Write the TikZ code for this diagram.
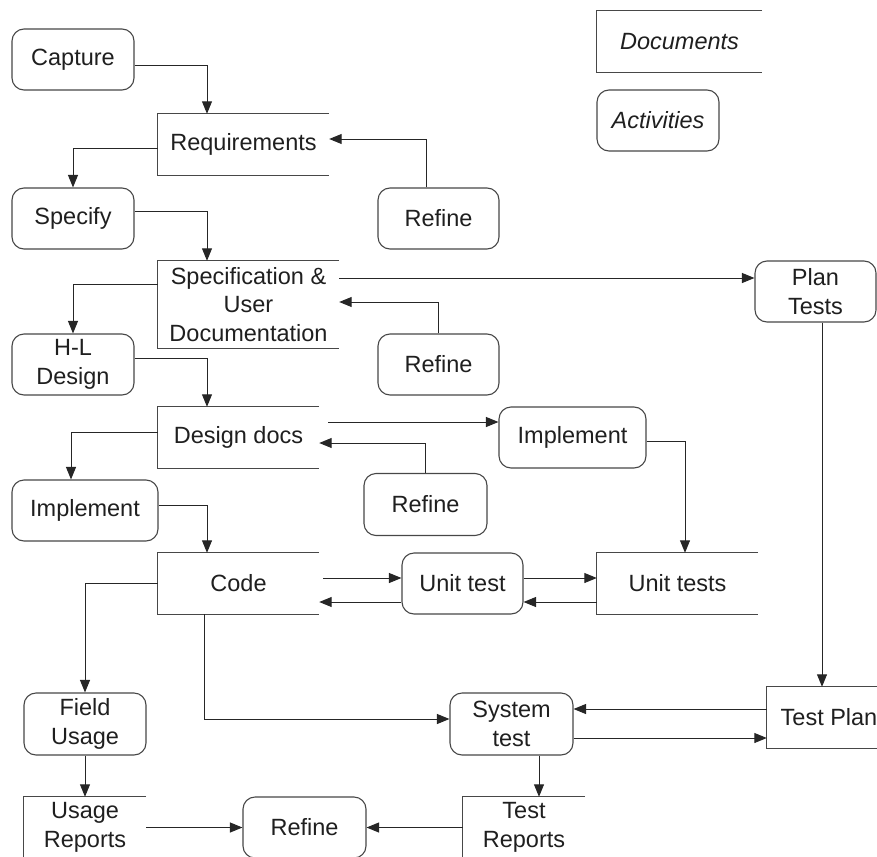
\documentclass[tikz,border=0pt]{standalone}
\usepackage{fontspec}
\setmainfont{Liberation Sans}
\usetikzlibrary{arrows.meta}
\begin{document}
\begin{tikzpicture}[x=1pt,y=-1pt,
  every node/.style={font=\fontsize{23.5}{28.5}\selectfont, text=black!88, inner sep=0pt, align=center},
  act/.style={draw=black!72, line width=1.1pt, rounded corners=12pt},
  doc/.style={},
  docline/.style={draw=black!72, line width=1.1pt},
  arr/.style={draw=black!85, line width=1pt, -{Triangle[length=12.5pt,width=10pt]}},
]
\useasboundingbox (0,0) rectangle (877,856);

% legend
\node[doc, minimum width=165pt, minimum height=61pt] (legdoc) at (679.5,41.5) {\itshape Documents};
\node[act, minimum width=122pt, minimum height=61pt] (legact) at (658,120.5) {\itshape Activities};

% activities
\node[act, minimum width=122pt, minimum height=61pt] (cap) at (73,59.5) {Capture};
\node[act, minimum width=121pt, minimum height=61pt] (ref1) at (438.5,218.5) {Refine};
\node[act, minimum width=122pt, minimum height=61pt] (sp) at (73,218.5) {Specify};
\node[act, minimum width=121pt, minimum height=61pt] (ref2) at (438.5,364.5) {Refine};
\node[act, minimum width=121pt, minimum height=61pt] (pt) at (815.5,291.5) {Plan\\Tests};
\node[act, minimum width=122pt, minimum height=61pt] (hl) at (73,364.5) {H-L\\Design};
\node[act, minimum width=147pt, minimum height=61pt] (impl2) at (572.5,437.5) {Implement};
\node[act, minimum width=123pt, minimum height=62pt] (ref3) at (425.5,504.5) {Refine};
\node[act, minimum width=146pt, minimum height=61pt] (impl1) at (85,510.5) {Implement};
\node[act, minimum width=121pt, minimum height=61pt] (utst) at (462.5,583.5) {Unit test};
\node[act, minimum width=122pt, minimum height=62pt] (fu) at (85,724) {Field\\Usage};
\node[act, minimum width=123pt, minimum height=62pt] (sys) at (511.5,724) {System\\test};
\node[act, minimum width=123pt, minimum height=61pt] (ref4) at (304.5,827.5) {Refine};

% documents
\node[doc, minimum width=171pt, minimum height=61pt] (req) at (243.5,144.5) {Requirements};
\node[doc, minimum width=181pt, minimum height=87pt] (spec) at (248.5,304.5) {Specification \&\\User\\Documentation};
\node[doc, minimum width=161pt, minimum height=61pt] (dd) at (238.5,437.5) {Design docs};
\node[doc, minimum width=161pt, minimum height=61pt] (code) at (238.5,583.5) {Code};
\node[doc, minimum width=161pt, minimum height=61pt] (uts) at (677.5,583.5) {Unit tests};
\node[doc, minimum width=124pt, minimum height=61pt] (tp) at (829,717.5) {Test Plan};
\node[doc, minimum width=122pt, minimum height=61pt] (ur) at (85,827.5) {Usage\\Reports};
\node[doc, minimum width=122pt, minimum height=61pt] (tr) at (524,827.5) {Test\\Reports};

\foreach \n in {legdoc,req,spec,dd,code,uts,tp,ur,tr}
  \draw[docline] (\n.north east) -- (\n.north west) -- (\n.south west) -- (\n.south east);

% connectors
\draw[arr] (cap.east |- 0,66) -| (req.north -| 207,0);
\draw[arr] (req.west |- 0,148) -| (sp.north);
\draw[arr] (ref1.north -| 426,0) |- (req.east |- 0,139);
\draw[arr] (sp.east |- 0,211) -| (spec.north -| 207,0);
\draw[arr] (spec.east |- 0,278) -- (pt.west |- 0,278);
\draw[arr] (ref2.north) |- (spec.east |- 0,302);
\draw[arr] (spec.west |- 0,284) -| (hl.north);
\draw[arr] (hl.east |- 0,358) -| (dd.north -| 207,0);
\draw[arr, shorten <=9pt] (dd.east |- 0,422) -- (impl2.west |- 0,422);
\draw[arr] (ref3.north) |- (dd.east |- 0,443);
\draw[arr] (dd.west |- 0,432) -| (impl1.north -| 71,0);
\draw[arr] (impl1.east |- 0,505) -| (code.north -| 207,0);
\draw[arr] (impl2.east |- 0,441) -| (uts.north -| 685,0);
\draw[arr, shorten <=4pt] (code.east |- 0,578) -- (utst.west |- 0,578);
\draw[arr] (utst.west |- 0,602) -- (code.east |- 0,602);
\draw[arr] (utst.east |- 0,578) -- (uts.west |- 0,578);
\draw[arr] (uts.west |- 0,602) -- (utst.east |- 0,602);
\draw[arr] (pt.south -| 822,0) -- (tp.north -| 822,0);
\draw[arr] (code.west) -| (fu.north);
\draw[arr] (code.south -| 204,0) |- (sys.west |- 0,719);
\draw[arr] (tp.west |- 0,709) -- (sys.east |- 0,709);
\draw[arr] (sys.east |- 0,738) -- (tp.west |- 0,738);
\draw[arr] (sys.south -| 539,0) -- (tr.north -| 539,0);
\draw[arr] (fu.south) -- (ur.north);
\draw[arr] (ur.east) -- (ref4.west);
\draw[arr] (tr.west) -- (ref4.east);
\end{tikzpicture}
\end{document}
